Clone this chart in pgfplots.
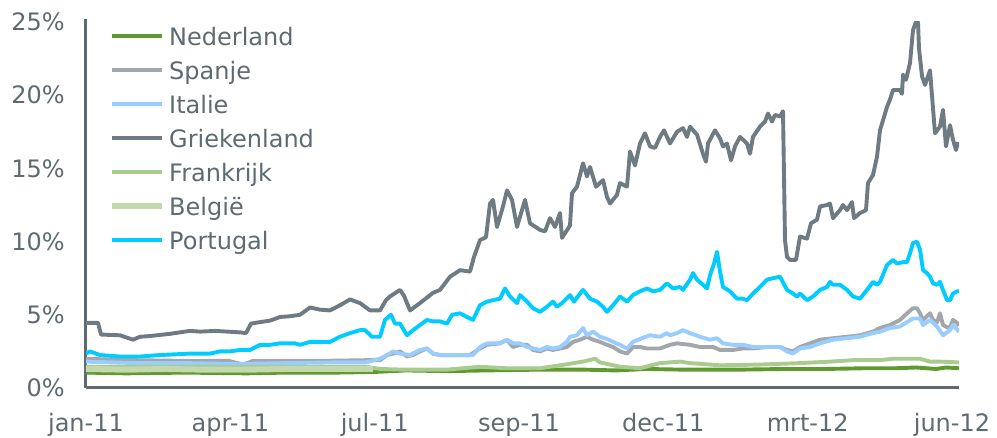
\documentclass[border=0pt]{standalone}
\usepackage{fontspec}
\setmainfont{DejaVu Sans}
\usepackage{pgfplots}
\pgfplotsset{compat=1.18}
\definecolor{axisgray}{HTML}{5E6A71}
\definecolor{cNed}{HTML}{5E9A2E}
\definecolor{cSpa}{HTML}{A2A7AB}
\definecolor{cIta}{HTML}{99CCFF}
\definecolor{cGri}{HTML}{6E7B83}
\definecolor{cFra}{HTML}{A9CB8E}
\definecolor{cBel}{HTML}{C4D8AE}
\definecolor{cPor}{HTML}{00CCFF}
\tikzset{
  serie/.style={line width=3.9pt, line join=round, no markers}
}
\begin{document}
\begin{tikzpicture}
  \useasboundingbox (-86pt,-50pt) rectangle (911pt,388pt);
  \begin{axis}[
    scale only axis,
    width=873pt, height=366pt,
    xmin=0, xmax=873,
    ymin=0, ymax=25,
    axis x line=bottom, axis y line=left,
    axis line style={-, draw=axisgray, line width=3pt},
    y axis line style={shorten >=-3pt},
    major tick length=0pt,
    tick style={draw=none},
    xtick={0,144.3,288.7,433,577.3,721.7,866},
    xticklabels={jan-11,apr-11,jul-11,sep-11,dec-11,mrt-12,jun-12},
    ytick={0,5,10,15,20,25},
    yticklabels={0\%,5\%,10\%,15\%,20\%,25\%},
    every tick label/.append style={font=\fontsize{24}{28}\selectfont, text=axisgray, inner sep=0pt},
    xticklabel style={anchor=base, yshift=-44pt},
    yticklabel style={anchor=east, xshift=-21pt},
    legend cell align=left,
    legend image code/.code={\draw[#1] (0pt,0pt) -- (50pt,0pt);},
    legend style={
      at={(axis cs:23,25.2)}, anchor=north west,
      draw=none, fill=none, inner sep=0pt,
      row sep=0pt, column sep=4pt,
      font=\fontsize{24}{28}\selectfont,
      nodes={text=axisgray, inner xsep=0pt, inner ysep=8.25pt, text height=17.5pt, text depth=0pt}
    },
  ]
  % Nederland
  \addplot[serie, color=cNed] coordinates {
    (0,1.05) (40,1.0) (100,1.05) (160,1.0) (200,1.05) (250,1.05) (290,1.1)
    (320,1.2) (360,1.15) (400,1.2) (450,1.25) (500,1.25) (530,1.2) (560,1.3)
    (600,1.25) (650,1.25) (700,1.3) (740,1.3) (780,1.35) (810,1.35)
    (830,1.4) (850,1.3) (860,1.4) (873,1.35)
  };
  % Spanje
  \addplot[serie, color=cSpa] coordinates {
    (0,2.0) (20,1.95) (50,1.9) (100,1.85) (143,1.85) (157,1.6) (167,1.85)
    (233,1.85) (280,1.9) (294,1.9) (301,2.25) (307,2.35) (314,2.5) (321,2.15)
    (327,2.25) (334,2.5) (341,2.7) (347,2.35) (354,2.25) (384,2.25) (394,2.7)
    (401,2.95) (414,3.05) (421,3.3) (427,2.8) (434,2.95) (441,2.95) (447,2.6)
    (454,2.5) (461,2.7) (467,2.6) (474,2.7) (481,2.8) (487,3.15) (494,3.3)
    (501,3.5) (507,3.3) (514,3.15) (521,2.95) (527,2.8) (534,2.5) (541,2.35)
    (547,2.8) (554,2.8) (561,2.7) (574,2.7) (584,2.95) (591,3.05) (604,2.95)
    (614,2.8) (627,2.8) (634,2.6) (647,2.6) (657,2.7) (667,2.7) (681,2.8)
    (694,2.8) (701,2.6) (707,2.5) (714,2.8) (724,3.05) (734,3.3) (747,3.4)
    (761,3.5) (774,3.6) (787,3.85) (794,4.1) (804,4.3) (814,4.65) (821,5.1)
    (827,5.45) (831,5.45) (834,5.1) (837,4.65) (844,5.1) (847,4.65) (851,4.5)
    (854,5.1) (857,4.3) (861,4.15) (864,4.15) (867,4.65) (871,4.45) (873,4.25)
  };
  % Italie
  \addplot[serie, color=cIta] coordinates {
    (0,1.8) (50,1.7) (100,1.7) (143,1.65) (160,1.65) (200,1.7) (250,1.75)
    (280,1.75) (294,2.0) (301,2.25) (307,2.5) (314,2.35) (324,2.25) (334,2.6)
    (341,2.7) (347,2.35) (354,2.25) (387,2.25) (394,2.8) (401,3.05) (414,3.05)
    (421,3.3) (427,3.05) (434,3.05) (441,2.8) (454,2.6) (461,2.8) (467,2.7)
    (474,2.8) (481,3.15) (484,3.5) (491,3.6) (497,4.1) (501,3.6) (507,3.85)
    (514,3.5) (521,3.35) (527,3.15) (534,2.95) (541,2.7) (547,3.15) (554,3.35)
    (564,3.6) (574,3.5) (581,3.75) (584,3.6) (591,3.75) (597,3.95) (604,3.75)
    (614,3.5) (624,3.3) (631,3.4) (637,3.05) (647,2.95) (657,2.95) (667,2.8)
    (681,2.8) (694,2.8) (701,2.5) (707,2.35) (714,2.7) (724,2.8) (734,3.05)
    (747,3.3) (761,3.4) (774,3.5) (787,3.75) (794,3.85) (804,4.1) (814,4.2)
    (821,4.5) (827,4.75) (834,4.75) (837,4.3) (844,4.65) (851,4.2) (857,3.6)
    (864,3.95) (867,4.3) (873,3.85)
  };
  % Griekenland
  \addplot[serie, color=cGri] coordinates {
    (0,4.45) (12,4.45) (15,3.65) (34,3.6) (47,3.3) (54,3.5) (64,3.55) (84,3.7)
    (104,3.9) (114,3.85) (129,3.9) (154,3.8) (160,3.75) (165,4.4) (174,4.5)
    (184,4.6) (194,4.85) (204,4.9) (214,5.0) (224,5.5) (234,5.35) (244,5.3)
    (254,5.65) (264,6.05) (274,5.8) (284,5.3) (294,5.3) (300,6.0) (304,6.25)
    (314,6.7) (318,6.3) (324,5.3) (334,5.8) (347,6.5) (354,6.7) (364,7.6)
    (374,8.05) (384,7.95) (388,8.95) (394,10.1) (400,10.3) (404,12.6)
    (407,12.85) (411,11.0) (417,12.4) (421,13.5) (426,12.85) (431,11.0)
    (439,12.85) (444,11.25) (454,10.8) (459,10.7) (464,11.6) (469,11.0)
    (474,11.95) (476,10.25) (484,11.1) (486,13.3) (491,13.75) (497,15.35)
    (501,14.45) (504,15.1) (510,13.75) (517,14.2) (521,13.05) (524,12.6)
    (531,13.2) (534,14.0) (541,13.75) (544,16.15) (549,15.2) (554,16.7)
    (559,17.4) (564,16.5) (569,16.4) (574,17.15) (578,17.6) (584,16.7)
    (591,17.5) (597,17.75) (601,17.15) (604,17.85) (611,17.3) (617,16.0)
    (620,15.45) (622,16.7) (629,17.6) (634,17.05) (637,16.5) (641,16.7)
    (645,15.55) (649,16.5) (654,17.15) (661,16.7) (664,16.0) (667,17.15)
    (674,17.85) (679,18.2) (682,18.75) (686,18.2) (689,18.65) (694,18.55)
    (697,18.9) (699,10.1) (701,8.95) (704,8.75) (710,8.75) (714,10.35)
    (721,10.2) (725,11.25) (731,11.5) (734,12.4) (741,12.5) (744,12.6)
    (747,11.6) (754,12.15) (757,12.5) (761,12.15) (766,12.7) (768,11.6)
    (774,11.95) (780,12.15) (782,14.0) (787,14.55) (791,15.8) (794,17.6)
    (801,19.2) (804,19.7) (807,20.35) (814,20.35) (816,20.1) (817,21.4)
    (820,21.05) (824,22.2) (827,24.45) (830,25.0) (832,25.0) (833,23.2)
    (836,21.3) (839,20.7) (844,21.7) (849,17.4) (854,17.85) (857,19.0)
    (860,16.5) (864,17.95) (867,16.95) (870,16.25) (872,16.8)
  };
  % Frankrijk
  \addplot[serie, color=cFra] coordinates {
    (0,1.45) (100,1.45) (200,1.45) (280,1.45) (294,1.3) (320,1.25) (360,1.25)
    (394,1.45) (420,1.35) (454,1.35) (474,1.55) (497,1.8) (509,2.0)
    (514,1.75) (534,1.45) (554,1.35) (574,1.7) (594,1.8) (604,1.7)
    (634,1.55) (674,1.6) (714,1.7) (744,1.8) (767,1.9) (794,1.9) (807,2.0)
    (834,2.0) (844,1.8) (854,1.8) (873,1.75)
  };
  % Belgie
  \addplot[serie, line width=6pt, color=cBel] coordinates {
    (0,1.3) (40,1.25) (80,1.3) (120,1.25) (160,1.25) (200,1.3) (240,1.3)
    (270,1.3) (287,1.3)
  };
  % Portugal
  \addplot[serie, color=cPor] coordinates {
    (0,2.35) (4,2.5) (14,2.25) (34,2.15) (54,2.15) (74,2.25) (104,2.35)
    (124,2.35) (134,2.5) (144,2.5) (154,2.6) (164,2.6) (174,2.95) (184,2.95)
    (194,3.05) (209,3.05) (214,2.95) (224,3.15) (244,3.15) (254,3.5)
    (264,3.75) (274,3.95) (279,3.95) (286,3.5) (294,3.5) (299,4.65)
    (305,5.0) (309,4.4) (314,4.4) (321,3.6) (327,3.95) (334,4.3) (341,4.65)
    (347,4.55) (354,4.55) (361,4.4) (366,5.0) (374,5.1) (381,4.85) (387,4.65)
    (394,5.65) (401,5.9) (407,6.0) (414,6.1) (419,6.8) (424,6.25) (431,5.8)
    (434,6.35) (441,5.9) (447,5.45) (454,5.2) (461,5.55) (467,5.9) (471,5.55)
    (476,5.8) (484,6.35) (488,5.9) (494,6.45) (497,6.7) (504,6.1) (511,5.9)
    (517,5.55) (521,5.2) (527,5.65) (534,6.25) (541,5.9) (547,6.35)
    (554,6.6) (561,6.8) (567,6.6) (574,6.7) (581,7.15) (587,6.8) (594,6.9)
    (597,6.7) (604,7.4) (607,7.85) (611,7.4) (617,7.05) (621,6.8) (624,7.7)
    (628,8.5) (631,9.3) (634,7.95) (637,6.9) (644,6.6) (651,6.1) (657,6.1)
    (661,6.0) (667,6.45) (674,6.9) (681,7.4) (687,7.5) (694,7.6) (701,6.7)
    (707,6.45) (711,6.25) (714,6.45) (721,6.0) (727,6.25) (734,6.7)
    (741,6.9) (744,7.25) (747,7.05) (754,7.05) (761,6.7) (767,6.25)
    (774,6.1) (781,6.7) (787,7.25) (791,7.05) (794,7.25) (801,8.4)
    (807,8.75) (811,8.5) (817,8.6) (821,8.6) (824,9.2) (827,9.9) (831,10.0)
    (834,9.45) (837,8.05) (841,7.85) (844,7.6) (847,7.15) (851,7.05)
    (854,7.25) (857,6.7) (861,6.0) (864,6.0) (867,6.45) (871,6.6) (873,6.6)
  };
  \legend{Nederland,Spanje,Italie,Griekenland,Frankrijk,België,Portugal}
  \end{axis}
\end{tikzpicture}
\end{document}
